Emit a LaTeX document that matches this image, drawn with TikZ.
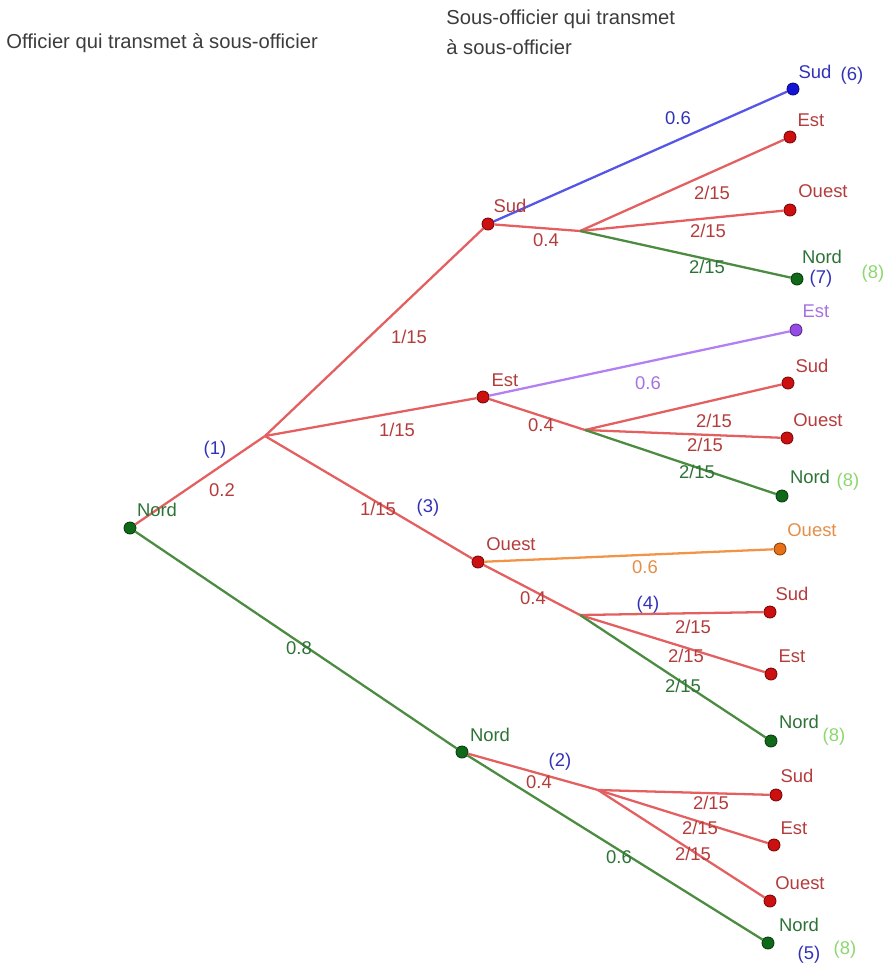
\documentclass[tikz,border=0pt]{standalone}
\usepackage{fontspec}
\setmainfont{Liberation Sans}
\usetikzlibrary{positioning}
\definecolor{edgered}{RGB}{228,96,96}
\definecolor{dotred}{RGB}{205,15,15}
\definecolor{textred}{RGB}{180,60,60}
\definecolor{edgegreen}{RGB}{75,140,65}
\definecolor{dotgreen}{RGB}{15,105,25}
\definecolor{textgreen}{RGB}{45,115,55}
\definecolor{edgeblue}{RGB}{85,85,232}
\definecolor{dotblue}{RGB}{20,20,215}
\definecolor{textblue}{RGB}{50,50,185}
\definecolor{edgepurple}{RGB}{178,128,242}
\definecolor{dotpurple}{RGB}{150,75,230}
\definecolor{textpurple}{RGB}{165,115,225}
\definecolor{edgeorange}{RGB}{242,148,72}
\definecolor{dotorange}{RGB}{232,112,22}
\definecolor{textorange}{RGB}{228,142,72}
\definecolor{numgreen}{RGB}{140,215,110}
\definecolor{headgray}{RGB}{60,60,60}

\begin{document}
\begin{tikzpicture}[
    x=0.02cm, y=-0.02cm,
    dotbase/.style={circle, inner sep=0pt, minimum size=0.24cm, line width=0.5pt},
    rdot/.style={dotbase, fill=dotred, draw=dotred!60!black},
    gdot/.style={dotbase, fill=dotgreen, draw=dotgreen!60!black},
    bdot/.style={dotbase, fill=dotblue, draw=dotblue!60!black},
    pdot/.style={dotbase, fill=dotpurple, draw=dotpurple!60!black},
    odot/.style={dotbase, fill=dotorange, draw=dotorange!60!black},
    lbl/.style={font=\fontsize{10.5}{12}\selectfont, inner sep=1pt},
    rlbl/.style={lbl, text=textred},
    glbl/.style={lbl, text=textgreen},
    blbl/.style={lbl, text=textblue},
    num/.style={lbl, text=numgreen},
    head/.style={font=\fontsize{11.5}{13}\selectfont, text=headgray, anchor=west, inner sep=0pt},
    redge/.style={draw=edgered, line width=1.3pt},
    gedge/.style={draw=edgegreen, line width=1.3pt},
    bedge/.style={draw=edgeblue, line width=1.3pt},
    pedge/.style={draw=edgepurple, line width=1.3pt},
    oedge/.style={draw=edgeorange, line width=1.3pt}
]
    \useasboundingbox (0,0) rectangle (887,965);

    % Headers
    \node[head] (h1) at (6,43) {Officier qui transmet à sous-officier};
    \node[head] (h2) at (446,19) {Sous-officier qui transmet};
    \node[head] (h3) at (446,47) {à sous-officier};

    % Root and first level
    \node[gdot] (r) at (130,528) {};
    \coordinate (b1) at (265,436);
    \node[gdot] (n2) at (462,752) {};
    \node[rdot] (s) at (488,224) {};
    \node[rdot] (e) at (483,397) {};
    \node[rdot] (o) at (478,562) {};

    % Split points
    \coordinate (bs) at (580,231);
    \coordinate (be) at (585,430);
    \coordinate (bo) at (580,615);
    \coordinate (bn) at (598,790);

    % Leaves after Sud
    \node[bdot] (s6) at (793,89) {};
    \node[rdot] (se) at (790,137) {};
    \node[rdot] (so) at (790,210) {};
    \node[gdot] (sn) at (797,279) {};

    % Leaves after Est
    \node[pdot] (ee) at (796,330) {};
    \node[rdot] (es) at (788,383) {};
    \node[rdot] (eo) at (787,438) {};
    \node[gdot] (en) at (782,496) {};

    % Leaves after Ouest
    \node[odot] (oo) at (780,549) {};
    \node[rdot] (os) at (770,612) {};
    \node[rdot] (oe) at (771,674) {};
    \node[gdot] (on) at (771,741) {};

    % Leaves after Nord
    \node[rdot] (ns) at (776,795) {};
    \node[rdot] (ne) at (774,845) {};
    \node[rdot] (no) at (770,901) {};
    \node[gdot] (nn) at (768,943) {};

    % === EDGES ===

    % First level
    \draw[redge] (r) -- (b1);
    \draw[gedge] (r) -- (n2);
    \draw[redge] (b1) -- (s);
    \draw[redge] (b1) -- (e);
    \draw[redge] (b1) -- (o);

    % Sud
    \draw[bedge] (s) -- (s6);
    \draw[redge] (s) -- (bs);
    \draw[redge] (bs) -- (se);
    \draw[redge] (bs) -- (so);
    \draw[gedge] (bs) -- (sn);

    % Est
    \draw[pedge] (e) -- (ee);
    \draw[redge] (e) -- (be);
    \draw[redge] (be) -- (es);
    \draw[redge] (be) -- (eo);
    \draw[gedge] (be) -- (en);

    % Ouest
    \draw[oedge] (o) -- (oo);
    \draw[redge] (o) -- (bo);
    \draw[redge] (bo) -- (os);
    \draw[redge] (bo) -- (oe);
    \draw[gedge] (bo) -- (on);

    % Nord
    \draw[gedge] (n2) -- (nn);
    \draw[redge] (n2) -- (bn);
    \draw[redge] (bn) -- (ns);
    \draw[redge] (bn) -- (ne);
    \draw[redge] (bn) -- (no);

    % Node labels
    \node[glbl] (lr) at (157,510) {Nord};
    \node[glbl] (ln2) at (490,735) {Nord};
    \node[rlbl] (ls) at (510,206) {Sud};
    \node[rlbl] (le) at (505,380) {Est};
    \node[rlbl] (lo) at (511,544) {Ouest};
    \node[blbl] (ls6) at (815,72) {Sud};
    \node[rlbl] (lse) at (811,120) {Est};
    \node[rlbl] (lso) at (823,191) {Ouest};
    \node[glbl, inner sep=0pt] (lsn) at (822,257) {Nord};
    \node[lbl, text=textpurple] (lee) at (816,311) {Est};
    \node[rlbl] (les) at (812,366) {Sud};
    \node[rlbl] (leo) at (818,420) {Ouest};
    \node[glbl] (len) at (810,477) {Nord};
    \node[lbl, text=textorange] (loo) at (812,530) {Ouest};
    \node[rlbl] (los) at (792,594) {Sud};
    \node[rlbl] (loe) at (792,656) {Est};
    \node[glbl] (lon) at (799,722) {Nord};
    \node[rlbl] (lns) at (797,776) {Sud};
    \node[rlbl] (lne) at (794,828) {Est};
    \node[rlbl] (lno) at (800,883) {Ouest};
    \node[glbl] (lnn) at (799,925) {Nord};

    % Probabilities
    \node[rlbl] (p1) at (222,490) {0.2};
    \node[glbl] (p2) at (299,648) {0.8};
    \node[rlbl] (p3) at (409,337) {1/15};
    \node[rlbl] (p4) at (397,430) {1/15};
    \node[rlbl] (p5) at (378,509) {1/15};
    \node[blbl] (ps1) at (678,118) {0.6};
    \node[rlbl] (ps2) at (546,240) {0.4};
    \node[rlbl] (ps3) at (712,193) {2/15};
    \node[rlbl] (ps4) at (708,231) {2/15};
    \node[glbl] (ps5) at (707,267) {2/15};
    \node[lbl, text=textpurple] (pe1) at (648,383) {0.6};
    \node[rlbl] (pe2) at (541,425) {0.4};
    \node[rlbl] (pe3) at (714,421) {2/15};
    \node[rlbl] (pe4) at (705,445) {2/15};
    \node[glbl] (pe5) at (697,472) {2/15};
    \node[lbl, text=textorange] (po1) at (645,567) {0.6};
    \node[rlbl] (po2) at (533,598) {0.4};
    \node[rlbl] (po3) at (693,627) {2/15};
    \node[rlbl] (po4) at (686,656) {2/15};
    \node[glbl] (po5) at (683,686) {2/15};
    \node[rlbl] (pn1) at (539,782) {0.4};
    \node[glbl] (pn2) at (619,857) {0.6};
    \node[rlbl] (pn3) at (711,803) {2/15};
    \node[rlbl] (pn4) at (700,828) {2/15};
    \node[rlbl] (pn5) at (693,854) {2/15};

    % Case numbers
    \node[blbl] (c1) at (215,450) {(1)};
    \node[blbl] (c2) at (560,762) {(2)};
    \node[blbl] (c3) at (428,508) {(3)};
    \node[blbl] (c4) at (648,605) {(4)};
    \node[blbl] (c5) at (809,955) {(5)};
    \node[blbl] (c6) at (852,76) {(6)};
    \node[blbl, inner sep=0pt] (c7) at (821,279) {(7)};
    \node[num] (c8a) at (873,274) {(8)};
    \node[num] (c8b) at (848,482) {(8)};
    \node[num] (c8c) at (834,737) {(8)};
    \node[num] (c8d) at (845,950) {(8)};
\end{tikzpicture}
\end{document}
